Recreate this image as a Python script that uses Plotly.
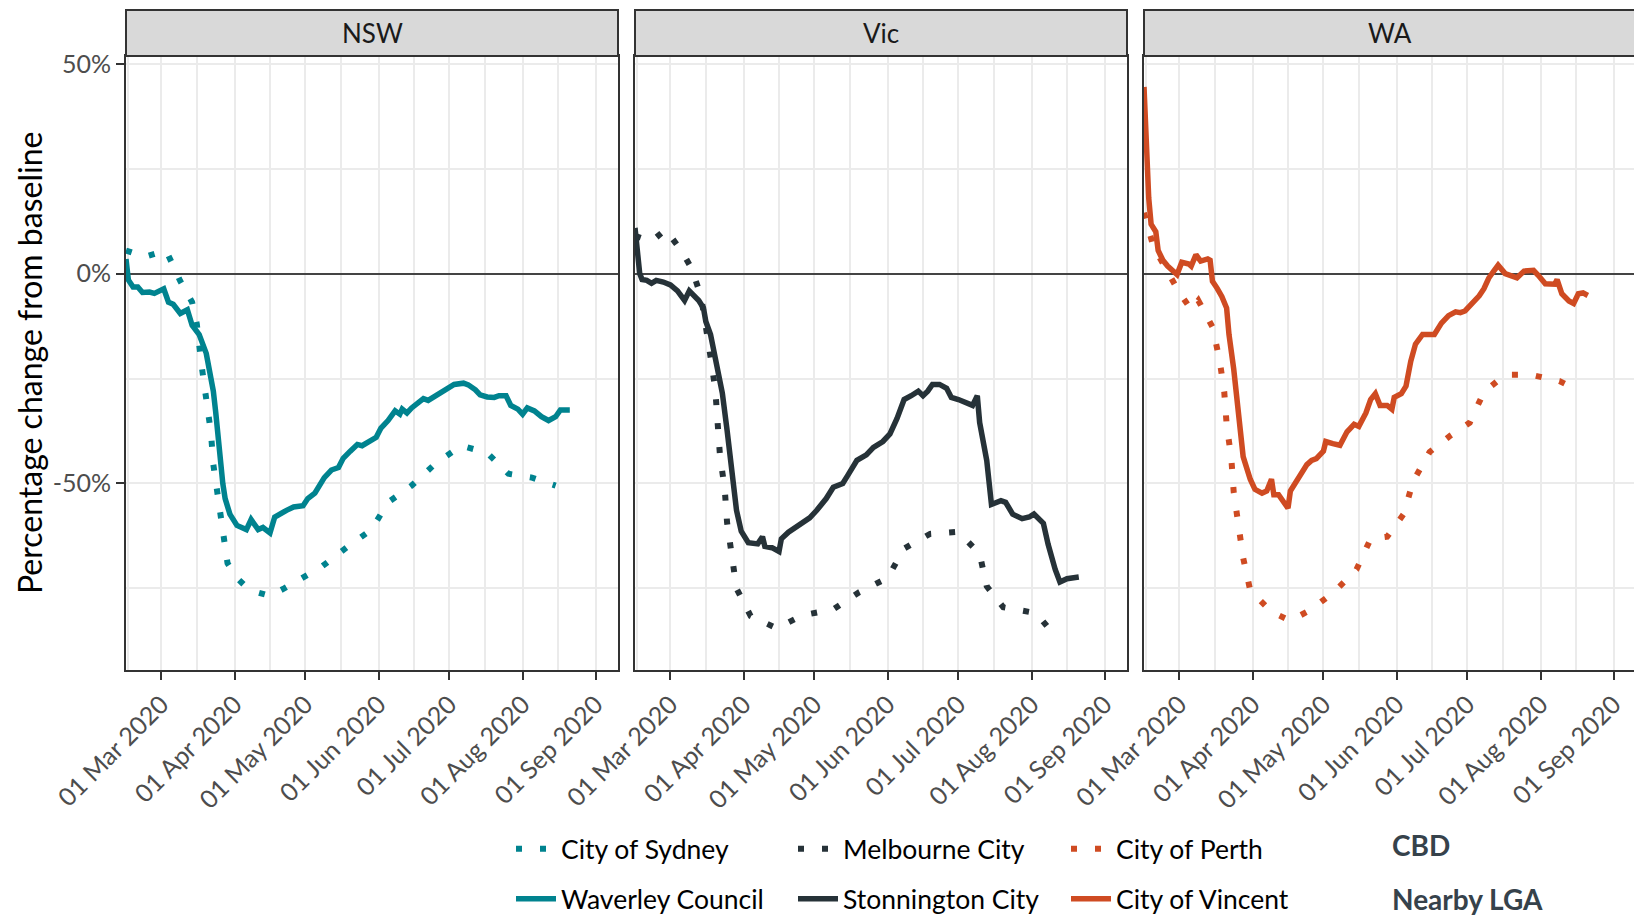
import pandas as pd
import plotly.graph_objects as go

BASE_DATE = "2020-02-15"  # day 0 of the series below

# ---- NSW ----
sydney_days = [0, 8, 17, 23, 28, 30, 32, 34, 36, 37, 39, 41, 43, 47, 51, 56, 61, 67, 73, 83,
               94, 104, 111, 121, 131, 142, 153, 162, 172, 182]
sydney_vals = [5.5, 4, 5.5, -1.8, -6.8, -12, -21.8, -30, -38, -45.5, -53, -61.4, -69, -72.5, -74.7,
               -76, -76.8, -75, -73, -69.8, -65, -61, -54.5, -50.5, -45.3, -41, -42.7, -47.7, -48.6, -50.5]

waverley_days = [0, 1, 3, 5, 7, 10, 12, 14, 16, 18, 20, 23, 26, 28, 31, 34, 36, 37, 38, 39, 40, 41,
                 42, 44, 47, 50, 51, 53, 56, 58, 60, 61, 63, 65, 68, 71, 75, 77, 80, 84, 87, 90, 92,
                 95, 98, 100, 103, 106, 108, 111, 114, 116, 117, 119, 121, 124, 126, 128, 131, 134,
                 136, 139, 143, 145, 148, 150, 153, 156, 158, 161, 163, 166, 168, 170, 173, 176,
                 179, 182, 184, 188]
waverley_vals = [3.5, -1.5, -3.2, -3.2, -4.5, -4.4, -4.7, -4.2, -3.6, -6.8, -7.3, -9.5, -8.6, -12.3,
                 -14.5, -19, -24.5, -28, -33, -40, -46, -50, -53.6, -57.3, -60, -61, -61, -58.6, -61,
                 -60.5, -61.4, -61.8, -58, -57.3, -56.4, -55.6, -55.3, -53.6, -52.3, -48.6, -46.8,
                 -46.2, -44, -42.3, -40.7, -41, -40, -39, -36.8, -35, -32.7, -33.5, -32.3, -33.2,
                 -32, -30.9, -29.8, -30.2, -29.1, -28.2, -27.3, -26.4, -26.1, -26.5, -27.7, -28.9,
                 -29.4, -29.5, -29.1, -29.1, -31.4, -32.3, -33.5, -32, -32.7, -34.1, -35, -34.1,
                 -32.5, -32.5]

# ---- Vic ----
melbourne_days = [0, 7, 13, 20, 24, 28, 32, 34, 35, 36, 38, 39, 41, 43, 49, 60, 71, 84, 95, 107,
                  114, 125, 137, 146, 149, 156, 170, 178]
melbourne_vals = [9, 7.7, 10.5, 5.2, 1.2, -5.5, -19.8, -27.5, -35.5, -43.4, -51.2, -59.3, -67.1,
                  -75, -81.6, -84.5, -81.4, -80, -75.9, -72.5, -65.5, -62, -61.5, -66.8, -74.5,
                  -79.5, -80.9, -86.4]

stonnington_days = [0, 1, 2, 3, 5, 7, 9, 12, 15, 18, 20, 21, 23, 25, 27, 29, 30, 32, 34, 37, 39,
                    41, 43, 45, 48, 52, 54, 55, 58, 61, 62, 65, 68, 71, 74, 77, 81, 84, 88, 90, 94,
                    98, 101, 105, 108, 111, 114, 117, 120, 122, 124, 126, 129, 132, 134, 137, 141,
                    143, 145, 146, 149, 151, 155, 157, 160, 164, 167, 169, 173, 175, 178, 180, 183,
                    188]
stonnington_vals = [10.9, 4, 0, -1.4, -1.6, -2.3, -1.6, -2, -2.7, -4.1, -5.5, -6.4, -4.1, -5.3,
                    -6.4, -8.2, -11.4, -14.5, -20.5, -28.5, -37.3, -46.4, -56.4, -61.4, -64.1,
                    -64.4, -62.7, -65, -65.3, -66.2, -63.2, -61.6, -60.5, -59.5, -58.2, -56.4,
                    -53.6, -50.9, -50, -48.2, -44.5, -43.2, -41.4, -40, -38.2, -34.5, -30, -29.1,
                    -28, -29.1, -28, -26.4, -26.4, -27.3, -29.5, -30, -30.9, -31.4, -29.1, -35.5,
                    -44.5, -55, -54.1, -54.5, -57.3, -58.4, -58, -57.3, -59.5, -64.5, -70.5,
                    -73.5, -72.7, -72.3]

# ---- WA ----
perth_days = [0, 4, 15, 20, 23, 29, 32, 34, 35, 37, 38, 40, 42, 45, 54, 62, 71, 81, 90, 96, 103,
              110, 114, 121, 130, 138, 144, 153, 164, 176, 181, 184]
perth_vals = [14.5, 6.4, -4.5, -8.6, -6.4, -12.7, -20.5, -28.2, -35.9, -44.1, -52, -59.8, -67.7,
              -75.5, -80.6, -82.7, -80, -75.6, -70.5, -63.2, -62.7, -57.3, -49.5, -42.5, -38.5,
              -35.5, -28.2, -24.1, -24.1, -25.6, -27, -25.5]

vincent_days = [0, 1, 2, 3, 5, 6, 8, 10, 13, 14, 16, 19, 20, 22, 24, 27, 28, 29, 31, 33, 35, 36,
                38, 40, 42, 45, 47, 50, 52, 54, 55, 57, 59, 61, 62, 64, 67, 69, 71, 73, 76, 77,
                80, 83, 86, 89, 91, 94, 96, 98, 100, 103, 105, 106, 109, 111, 113, 115, 118, 121,
                123, 126, 129, 132, 134, 136, 139, 142, 144, 146, 148, 150, 153, 158, 161, 165,
                167, 170, 174, 175, 177, 180, 182, 184, 186, 188]
vincent_vals = [44.5, 28, 18, 11.8, 10, 5.5, 3.2, 1.8, 0.5, -0.2, 2.7, 2.3, 1.8, 4.5, 3, 3.5, 3.2,
                -1.8, -3.5, -5.5, -8.2, -14.5, -22.7, -33.6, -43.6, -49, -51.4, -52.3, -51.8, -49,
                -52.7, -52.7, -54.5, -55.9, -51.8, -50, -47.3, -45.5, -44.5, -44.1, -42.3, -40,
                -40.5, -40.9, -37.7, -35.9, -36.4, -33.2, -30, -28.6, -31.4, -31.4, -32.3, -29.5,
                -28.6, -26.8, -20.9, -16.8, -14.5, -14.3, -14.5, -11.8, -10, -9.1, -9.3, -8.9,
                -7.3, -5.3, -3.6, -1.1, 0.5, 2, 0, -1, 0.6, 0.8, -0.4, -2.4, -2.5, -1.4, -4.8,
                -6.5, -7.1, -4.8, -4.6, -5.2]

states = ["NSW", "Vic", "WA"]
state_colours = ["#00838F", "#263238", "#CF4B22"]
cbd_names = ["City of Sydney", "Melbourne City", "City of Perth"]
lga_names = ["Waverley Council", "Stonnington City", "City of Vincent"]
cbd_series = [(sydney_days, sydney_vals), (melbourne_days, melbourne_vals), (perth_days, perth_vals)]
lga_series = [(waverley_days, waverley_vals), (stonnington_days, stonnington_vals),
              (vincent_days, vincent_vals)]

y_tick_vals = [-50, 0, 50]
y_tick_text = ["-50%", "0%", "50%"]
x_range = ["2020-02-15", "2020-09-10 10:00"]
y_range = [-94.45, 51.86]


def to_dates(days):
    return pd.Timestamp(BASE_DATE) + pd.to_timedelta(days, unit="D")


# the page body adds an 8px margin; build the figure in window pixels minus that offset
OFF = 8
W, H = 1642 - OFF, 917 - OFF
ML, MR, MT, MB = 126 - OFF, 6, 56 - OFF, 247
PW = W - ML - MR
PH = H - MT - MB
panel_px = 492
gap_px = 17
domains = []
for i in range(3):
    x0 = i * (panel_px + gap_px) / PW
    x1 = min(1.0, (i * (panel_px + gap_px) + panel_px) / PW)
    domains.append([x0, x1])


def px_x(xw):  # window x -> paper
    return (xw - OFF - ML) / PW


def px_y(yw):  # window y -> paper
    return (H - MB - (yw - OFF)) / PH


FONT = "Lato"
TICK_SIZE = 25
fig = go.Figure()

legend_text_x = [561, 843, 1116]
row_y = [849, 899]
itemw = 40

for i in range(3):
    xa = "x" if i == 0 else f"x{i+1}"
    ya = "y" if i == 0 else f"y{i+1}"
    d, v = cbd_series[i]
    lg_cbd = "legend" if i == 0 else f"legend{i+1}"
    lg_lga = f"legend{i+4}"
    fig.add_trace(go.Scatter(
        x=to_dates(d), y=v, mode="lines", name=cbd_names[i],
        line=dict(color=state_colours[i], width=6, dash="6px,18px"),
        xaxis=xa, yaxis=ya, legend=lg_cbd))
    d, v = lga_series[i]
    fig.add_trace(go.Scatter(
        x=to_dates(d), y=v, mode="lines", name=lga_names[i],
        line=dict(color=state_colours[i], width=5.5),
        xaxis=xa, yaxis=ya, legend=lg_lga))

layout = dict(
    width=W, height=H,
    margin=dict(l=ML, r=MR, t=MT, b=MB, autoexpand=False),
    paper_bgcolor="white", plot_bgcolor="white",
    font=dict(family=FONT, size=24, color="#000000"),
    showlegend=True,
)

for i in range(3):
    sfx = "" if i == 0 else str(i + 1)
    layout["xaxis" + sfx] = dict(
        domain=domains[i], anchor="y" + sfx, range=x_range, type="date",
        tickformat="%d %b %Y", dtick="M1", tick0="2020-03-01", tickangle=-45,
        tickfont=dict(family=FONT, size=TICK_SIZE, color="#4D4D4D"),
        ticks="outside", ticklen=8, tickwidth=2, tickcolor="#333333",
        showgrid=True, gridcolor="#EBEBEB", gridwidth=2,
        minor=dict(dtick="M1", tick0="2020-02-16", showgrid=True, gridcolor="#EBEBEB",
                   gridwidth=1.5, ticks=""),
        showline=True, mirror=True, linecolor="#333333", linewidth=2,
        zeroline=False, automargin=False, fixedrange=True,
        **({} if i == 0 else {"matches": "x"}),
    )
    layout["yaxis" + sfx] = dict(
        anchor="x" + sfx, range=y_range,
        tickmode="array", tickvals=y_tick_vals, ticktext=y_tick_text,
        showticklabels=(i == 0),
        tickfont=dict(family=FONT, size=TICK_SIZE, color="#4D4D4D"),
        ticks="outside" if i == 0 else "", ticklen=8, tickwidth=2, tickcolor="#333333",
        showgrid=True, gridcolor="#EBEBEB", gridwidth=2,
        minor=dict(dtick=25, tick0=0, showgrid=True, gridcolor="#EBEBEB", gridwidth=1.5, ticks=""),
        zeroline=True, zerolinecolor="#444444", zerolinewidth=2,
        showline=True, mirror=True, linecolor="#333333", linewidth=2,
        automargin=False, fixedrange=True,
        **({} if i == 0 else {"matches": "y"}),
    )

# legends: one per entry so each sits in its own grid cell
for k in range(6):
    col = k % 3
    row = k // 3
    lid = "legend" if k == 0 else f"legend{k+1}"
    lx = legend_text_x[col] - itemw - 10
    layout[lid] = dict(
        x=px_x(lx), xanchor="left",
        y=px_y(row_y[row]), yanchor="middle",
        orientation="v", bgcolor="rgba(0,0,0,0)", borderwidth=0,
        font=dict(family=FONT, size=26.5, color="#000000"), itemwidth=itemw,
    )

fig.update_layout(**layout)

strip_h = 46 / PH
shapes = []
annotations = []
for i in range(3):
    shapes.append(dict(type="rect", xref="paper", yref="paper",
                       x0=domains[i][0], x1=domains[i][1], y0=1, y1=1 + strip_h,
                       fillcolor="#D9D9D9", line=dict(color="#333333", width=2), layer="above"))
    annotations.append(dict(text=states[i], xref="paper", yref="paper",
                            x=(domains[i][0] + domains[i][1]) / 2, y=1 + strip_h / 2,
                            xanchor="center", yanchor="middle", showarrow=False,
                            font=dict(family=FONT, size=26, color="#1A1A1A")))

annotations.append(dict(text="Percentage change from baseline", xref="paper", yref="paper",
                        x=px_x(29), y=0.5, xanchor="center", yanchor="middle",
                        textangle=-90, showarrow=False,
                        font=dict(family=FONT, size=32, color="#000000")))
for txt, ypix in [("CBD", 845), ("Nearby LGA", 899)]:
    annotations.append(dict(text=f"<b>{txt}</b>", xref="paper", yref="paper",
                            x=px_x(1390), y=px_y(ypix),
                            xanchor="left", yanchor="middle", showarrow=False,
                            font=dict(family=FONT, size=28, color="#36424B")))

fig.update_layout(shapes=shapes, annotations=annotations)
fig.write_html("out.html")
